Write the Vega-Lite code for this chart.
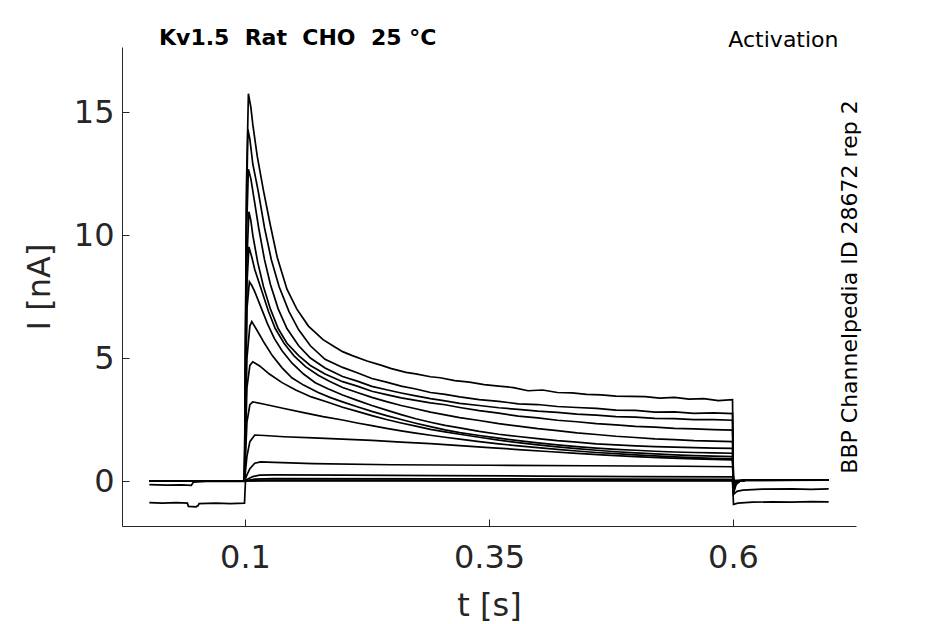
{
  "$schema": "https://vega.github.io/schema/vega-lite/v6.json",
  "width": 734,
  "height": 479,
  "autosize": {"type": "none"},
  "padding": {"left": 122, "top": 47, "right": 89, "bottom": 98},
  "background": "white",
  "config": {
    "view": {"stroke": null},
    "font": "DejaVu Sans",
    "axis": {
      "grid": false,
      "labelFont": "DejaVu Sans",
      "labelFontSize": 32,
      "labelColor": "#262626",
      "titleFont": "DejaVu Sans",
      "titleFontSize": 32,
      "titleFontWeight": "normal",
      "titleColor": "#262626",
      "domainColor": "#262626",
      "tickColor": "#262626",
      "tickSize": -7
    }
  },
  "title": {
    "text": "Kv1.5\u00a0\u00a0Rat\u00a0\u00a0CHO\u00a0\u00a025\u00a0°C",
    "anchor": "start",
    "frame": "group",
    "font": "DejaVu Sans",
    "fontSize": 22,
    "fontWeight": "bold",
    "color": "black",
    "baseline": "alphabetic",
    "dx": 37,
    "dy": 39,
    "offset": 0
  },
  "data": {
    "values": [
      {"sweep": "A", "t": 0.002, "I": 0.01}, {"sweep": "A", "t": 0.03, "I": -0.01}, {"sweep": "A", "t": 0.06, "I": 0.01}, {"sweep": "A", "t": 0.0995, "I": 0},
      {"sweep": "A", "t": 0.1015, "I": 12.0}, {"sweep": "A", "t": 0.1035, "I": 15.75}, {"sweep": "A", "t": 0.106, "I": 15.2}, {"sweep": "A", "t": 0.108, "I": 14.5},
      {"sweep": "A", "t": 0.1126, "I": 13.2}, {"sweep": "A", "t": 0.119, "I": 11.8}, {"sweep": "A", "t": 0.126, "I": 10.4}, {"sweep": "A", "t": 0.133, "I": 9.1},
      {"sweep": "A", "t": 0.143, "I": 7.8}, {"sweep": "A", "t": 0.153, "I": 7.0}, {"sweep": "A", "t": 0.165, "I": 6.3}, {"sweep": "A", "t": 0.18, "I": 5.75},
      {"sweep": "A", "t": 0.19, "I": 5.5}, {"sweep": "A", "t": 0.2, "I": 5.26}, {"sweep": "A", "t": 0.21, "I": 5.1}, {"sweep": "A", "t": 0.225, "I": 4.88},
      {"sweep": "A", "t": 0.24, "I": 4.7}, {"sweep": "A", "t": 0.25, "I": 4.57}, {"sweep": "A", "t": 0.265, "I": 4.42}, {"sweep": "A", "t": 0.275, "I": 4.36},
      {"sweep": "A", "t": 0.29, "I": 4.24}, {"sweep": "A", "t": 0.3, "I": 4.2}, {"sweep": "A", "t": 0.315, "I": 4.08}, {"sweep": "A", "t": 0.33, "I": 4.02},
      {"sweep": "A", "t": 0.345, "I": 3.92}, {"sweep": "A", "t": 0.36, "I": 3.86}, {"sweep": "A", "t": 0.375, "I": 3.8}, {"sweep": "A", "t": 0.39, "I": 3.67},
      {"sweep": "A", "t": 0.405, "I": 3.7}, {"sweep": "A", "t": 0.42, "I": 3.6}, {"sweep": "A", "t": 0.435, "I": 3.58}, {"sweep": "A", "t": 0.45, "I": 3.52},
      {"sweep": "A", "t": 0.465, "I": 3.5}, {"sweep": "A", "t": 0.48, "I": 3.45}, {"sweep": "A", "t": 0.495, "I": 3.44}, {"sweep": "A", "t": 0.51, "I": 3.43},
      {"sweep": "A", "t": 0.525, "I": 3.37}, {"sweep": "A", "t": 0.54, "I": 3.4}, {"sweep": "A", "t": 0.555, "I": 3.33}, {"sweep": "A", "t": 0.57, "I": 3.35},
      {"sweep": "A", "t": 0.585, "I": 3.27}, {"sweep": "A", "t": 0.5995, "I": 3.31}, {"sweep": "A", "t": 0.6005, "I": -0.5}, {"sweep": "A", "t": 0.603, "I": -0.15},
      {"sweep": "A", "t": 0.607, "I": 0.0}, {"sweep": "A", "t": 0.615, "I": 0.04}, {"sweep": "A", "t": 0.65, "I": 0.04}, {"sweep": "A", "t": 0.698, "I": 0.04},

      {"sweep": "B", "t": 0.002, "I": 0}, {"sweep": "B", "t": 0.0995, "I": 0}, {"sweep": "B", "t": 0.1015, "I": 11}, {"sweep": "B", "t": 0.103, "I": 14.3},
      {"sweep": "B", "t": 0.105, "I": 13.9}, {"sweep": "B", "t": 0.108, "I": 12.9}, {"sweep": "B", "t": 0.1135, "I": 11.8}, {"sweep": "B", "t": 0.12, "I": 10.3},
      {"sweep": "B", "t": 0.127, "I": 9.0}, {"sweep": "B", "t": 0.135, "I": 7.9}, {"sweep": "B", "t": 0.145, "I": 6.9}, {"sweep": "B", "t": 0.155, "I": 6.15},
      {"sweep": "B", "t": 0.167, "I": 5.5}, {"sweep": "B", "t": 0.182, "I": 4.95}, {"sweep": "B", "t": 0.2, "I": 4.62}, {"sweep": "B", "t": 0.215, "I": 4.4},
      {"sweep": "B", "t": 0.23, "I": 4.17}, {"sweep": "B", "t": 0.245, "I": 4.02}, {"sweep": "B", "t": 0.26, "I": 3.86}, {"sweep": "B", "t": 0.275, "I": 3.74},
      {"sweep": "B", "t": 0.29, "I": 3.6}, {"sweep": "B", "t": 0.305, "I": 3.52}, {"sweep": "B", "t": 0.32, "I": 3.42}, {"sweep": "B", "t": 0.34, "I": 3.31},
      {"sweep": "B", "t": 0.36, "I": 3.24}, {"sweep": "B", "t": 0.38, "I": 3.14}, {"sweep": "B", "t": 0.4, "I": 3.11}, {"sweep": "B", "t": 0.42, "I": 3.03},
      {"sweep": "B", "t": 0.44, "I": 2.99}, {"sweep": "B", "t": 0.46, "I": 2.95}, {"sweep": "B", "t": 0.48, "I": 2.88}, {"sweep": "B", "t": 0.5, "I": 2.87},
      {"sweep": "B", "t": 0.52, "I": 2.8}, {"sweep": "B", "t": 0.54, "I": 2.81}, {"sweep": "B", "t": 0.56, "I": 2.75}, {"sweep": "B", "t": 0.58, "I": 2.77},
      {"sweep": "B", "t": 0.5995, "I": 2.74}, {"sweep": "B", "t": 0.6005, "I": -0.45}, {"sweep": "B", "t": 0.603, "I": -0.13}, {"sweep": "B", "t": 0.607, "I": 0},
      {"sweep": "B", "t": 0.615, "I": 0.04}, {"sweep": "B", "t": 0.698, "I": 0.04},

      {"sweep": "C", "t": 0.002, "I": 0}, {"sweep": "C", "t": 0.0995, "I": 0}, {"sweep": "C", "t": 0.1015, "I": 10}, {"sweep": "C", "t": 0.1035, "I": 12.68},
      {"sweep": "C", "t": 0.106, "I": 12.3}, {"sweep": "C", "t": 0.108, "I": 11.8}, {"sweep": "C", "t": 0.114, "I": 10.3}, {"sweep": "C", "t": 0.12, "I": 9.0},
      {"sweep": "C", "t": 0.126, "I": 8.0}, {"sweep": "C", "t": 0.134, "I": 7.0}, {"sweep": "C", "t": 0.143, "I": 6.2}, {"sweep": "C", "t": 0.155, "I": 5.5},
      {"sweep": "C", "t": 0.167, "I": 5.0}, {"sweep": "C", "t": 0.182, "I": 4.6}, {"sweep": "C", "t": 0.2, "I": 4.25}, {"sweep": "C", "t": 0.215, "I": 4.06},
      {"sweep": "C", "t": 0.23, "I": 3.85}, {"sweep": "C", "t": 0.245, "I": 3.71}, {"sweep": "C", "t": 0.26, "I": 3.58}, {"sweep": "C", "t": 0.275, "I": 3.46},
      {"sweep": "C", "t": 0.29, "I": 3.35}, {"sweep": "C", "t": 0.305, "I": 3.26}, {"sweep": "C", "t": 0.32, "I": 3.16}, {"sweep": "C", "t": 0.34, "I": 3.07},
      {"sweep": "C", "t": 0.36, "I": 2.98}, {"sweep": "C", "t": 0.38, "I": 2.91}, {"sweep": "C", "t": 0.4, "I": 2.84}, {"sweep": "C", "t": 0.42, "I": 2.79},
      {"sweep": "C", "t": 0.44, "I": 2.72}, {"sweep": "C", "t": 0.46, "I": 2.68}, {"sweep": "C", "t": 0.48, "I": 2.62}, {"sweep": "C", "t": 0.5, "I": 2.6},
      {"sweep": "C", "t": 0.52, "I": 2.55}, {"sweep": "C", "t": 0.54, "I": 2.54}, {"sweep": "C", "t": 0.56, "I": 2.5}, {"sweep": "C", "t": 0.58, "I": 2.5},
      {"sweep": "C", "t": 0.5995, "I": 2.47}, {"sweep": "C", "t": 0.6005, "I": -0.4}, {"sweep": "C", "t": 0.603, "I": -0.12}, {"sweep": "C", "t": 0.607, "I": 0},
      {"sweep": "C", "t": 0.615, "I": 0.04}, {"sweep": "C", "t": 0.698, "I": 0.04},

      {"sweep": "D", "t": 0.002, "I": 0}, {"sweep": "D", "t": 0.0995, "I": 0}, {"sweep": "D", "t": 0.102, "I": 9}, {"sweep": "D", "t": 0.104, "I": 10.95},
      {"sweep": "D", "t": 0.106, "I": 10.6}, {"sweep": "D", "t": 0.108, "I": 10.0}, {"sweep": "D", "t": 0.113, "I": 8.9}, {"sweep": "D", "t": 0.119, "I": 7.9},
      {"sweep": "D", "t": 0.126, "I": 7.0}, {"sweep": "D", "t": 0.134, "I": 6.2}, {"sweep": "D", "t": 0.143, "I": 5.6}, {"sweep": "D", "t": 0.155, "I": 5.1},
      {"sweep": "D", "t": 0.167, "I": 4.7}, {"sweep": "D", "t": 0.182, "I": 4.35}, {"sweep": "D", "t": 0.2, "I": 4.04}, {"sweep": "D", "t": 0.215, "I": 3.86},
      {"sweep": "D", "t": 0.23, "I": 3.65}, {"sweep": "D", "t": 0.245, "I": 3.51}, {"sweep": "D", "t": 0.26, "I": 3.38}, {"sweep": "D", "t": 0.275, "I": 3.28},
      {"sweep": "D", "t": 0.29, "I": 3.18}, {"sweep": "D", "t": 0.305, "I": 3.1}, {"sweep": "D", "t": 0.32, "I": 2.99}, {"sweep": "D", "t": 0.34, "I": 2.86},
      {"sweep": "D", "t": 0.36, "I": 2.76}, {"sweep": "D", "t": 0.38, "I": 2.64}, {"sweep": "D", "t": 0.4, "I": 2.57}, {"sweep": "D", "t": 0.42, "I": 2.47},
      {"sweep": "D", "t": 0.44, "I": 2.41}, {"sweep": "D", "t": 0.46, "I": 2.33}, {"sweep": "D", "t": 0.48, "I": 2.28}, {"sweep": "D", "t": 0.5, "I": 2.22},
      {"sweep": "D", "t": 0.52, "I": 2.19}, {"sweep": "D", "t": 0.54, "I": 2.14}, {"sweep": "D", "t": 0.56, "I": 2.12}, {"sweep": "D", "t": 0.58, "I": 2.09},
      {"sweep": "D", "t": 0.5995, "I": 2.07}, {"sweep": "D", "t": 0.6005, "I": -0.35}, {"sweep": "D", "t": 0.603, "I": -0.1}, {"sweep": "D", "t": 0.607, "I": 0},
      {"sweep": "D", "t": 0.615, "I": 0.04}, {"sweep": "D", "t": 0.698, "I": 0.04},

      {"sweep": "E", "t": 0.002, "I": 0}, {"sweep": "E", "t": 0.0995, "I": 0}, {"sweep": "E", "t": 0.102, "I": 8}, {"sweep": "E", "t": 0.104, "I": 9.52},
      {"sweep": "E", "t": 0.107, "I": 9.1}, {"sweep": "E", "t": 0.11, "I": 8.6}, {"sweep": "E", "t": 0.117, "I": 7.76}, {"sweep": "E", "t": 0.124, "I": 6.9},
      {"sweep": "E", "t": 0.131, "I": 6.2}, {"sweep": "E", "t": 0.14, "I": 5.6}, {"sweep": "E", "t": 0.15, "I": 5.1}, {"sweep": "E", "t": 0.162, "I": 4.65},
      {"sweep": "E", "t": 0.175, "I": 4.3}, {"sweep": "E", "t": 0.187, "I": 4.05}, {"sweep": "E", "t": 0.2, "I": 3.8}, {"sweep": "E", "t": 0.215, "I": 3.6},
      {"sweep": "E", "t": 0.23, "I": 3.4}, {"sweep": "E", "t": 0.245, "I": 3.23}, {"sweep": "E", "t": 0.26, "I": 3.07}, {"sweep": "E", "t": 0.275, "I": 2.94},
      {"sweep": "E", "t": 0.29, "I": 2.8}, {"sweep": "E", "t": 0.305, "I": 2.69}, {"sweep": "E", "t": 0.32, "I": 2.58}, {"sweep": "E", "t": 0.34, "I": 2.46},
      {"sweep": "E", "t": 0.36, "I": 2.33}, {"sweep": "E", "t": 0.38, "I": 2.23}, {"sweep": "E", "t": 0.4, "I": 2.13}, {"sweep": "E", "t": 0.42, "I": 2.05},
      {"sweep": "E", "t": 0.44, "I": 1.96}, {"sweep": "E", "t": 0.46, "I": 1.89}, {"sweep": "E", "t": 0.48, "I": 1.82}, {"sweep": "E", "t": 0.5, "I": 1.77},
      {"sweep": "E", "t": 0.52, "I": 1.71}, {"sweep": "E", "t": 0.54, "I": 1.68}, {"sweep": "E", "t": 0.56, "I": 1.64}, {"sweep": "E", "t": 0.58, "I": 1.62},
      {"sweep": "E", "t": 0.5995, "I": 1.6}, {"sweep": "E", "t": 0.6005, "I": -0.3}, {"sweep": "E", "t": 0.603, "I": -0.09}, {"sweep": "E", "t": 0.607, "I": 0},
      {"sweep": "E", "t": 0.615, "I": 0.04}, {"sweep": "E", "t": 0.698, "I": 0.04},

      {"sweep": "F", "t": 0.002, "I": 0}, {"sweep": "F", "t": 0.0995, "I": 0}, {"sweep": "F", "t": 0.102, "I": 7}, {"sweep": "F", "t": 0.1045, "I": 8.1},
      {"sweep": "F", "t": 0.107, "I": 7.95}, {"sweep": "F", "t": 0.11, "I": 7.7}, {"sweep": "F", "t": 0.116, "I": 7.1}, {"sweep": "F", "t": 0.123, "I": 6.4},
      {"sweep": "F", "t": 0.13, "I": 5.8}, {"sweep": "F", "t": 0.138, "I": 5.3}, {"sweep": "F", "t": 0.148, "I": 4.8}, {"sweep": "F", "t": 0.16, "I": 4.35},
      {"sweep": "F", "t": 0.172, "I": 4.0}, {"sweep": "F", "t": 0.185, "I": 3.75}, {"sweep": "F", "t": 0.2, "I": 3.5}, {"sweep": "F", "t": 0.215, "I": 3.28},
      {"sweep": "F", "t": 0.23, "I": 3.07}, {"sweep": "F", "t": 0.245, "I": 2.88}, {"sweep": "F", "t": 0.26, "I": 2.7}, {"sweep": "F", "t": 0.275, "I": 2.53},
      {"sweep": "F", "t": 0.29, "I": 2.39}, {"sweep": "F", "t": 0.305, "I": 2.26}, {"sweep": "F", "t": 0.32, "I": 2.16}, {"sweep": "F", "t": 0.34, "I": 2.02},
      {"sweep": "F", "t": 0.36, "I": 1.9}, {"sweep": "F", "t": 0.38, "I": 1.81}, {"sweep": "F", "t": 0.4, "I": 1.72}, {"sweep": "F", "t": 0.42, "I": 1.64},
      {"sweep": "F", "t": 0.44, "I": 1.58}, {"sweep": "F", "t": 0.46, "I": 1.51}, {"sweep": "F", "t": 0.48, "I": 1.47}, {"sweep": "F", "t": 0.5, "I": 1.43},
      {"sweep": "F", "t": 0.52, "I": 1.4}, {"sweep": "F", "t": 0.54, "I": 1.38}, {"sweep": "F", "t": 0.56, "I": 1.36}, {"sweep": "F", "t": 0.58, "I": 1.34},
      {"sweep": "F", "t": 0.5995, "I": 1.33}, {"sweep": "F", "t": 0.6005, "I": -0.25}, {"sweep": "F", "t": 0.603, "I": -0.07}, {"sweep": "F", "t": 0.607, "I": 0},
      {"sweep": "F", "t": 0.615, "I": 0.04}, {"sweep": "F", "t": 0.698, "I": 0.04},

      {"sweep": "G", "t": 0.002, "I": 0}, {"sweep": "G", "t": 0.0995, "I": 0}, {"sweep": "G", "t": 0.102, "I": 5}, {"sweep": "G", "t": 0.105, "I": 6.3},
      {"sweep": "G", "t": 0.107, "I": 6.48}, {"sweep": "G", "t": 0.112, "I": 6.15}, {"sweep": "G", "t": 0.12, "I": 5.6}, {"sweep": "G", "t": 0.128, "I": 5.1},
      {"sweep": "G", "t": 0.138, "I": 4.6}, {"sweep": "G", "t": 0.148, "I": 4.2}, {"sweep": "G", "t": 0.16, "I": 3.9}, {"sweep": "G", "t": 0.175, "I": 3.6},
      {"sweep": "G", "t": 0.187, "I": 3.4}, {"sweep": "G", "t": 0.2, "I": 3.22}, {"sweep": "G", "t": 0.215, "I": 3.02}, {"sweep": "G", "t": 0.23, "I": 2.83},
      {"sweep": "G", "t": 0.245, "I": 2.66}, {"sweep": "G", "t": 0.26, "I": 2.5}, {"sweep": "G", "t": 0.275, "I": 2.35}, {"sweep": "G", "t": 0.29, "I": 2.21},
      {"sweep": "G", "t": 0.305, "I": 2.08}, {"sweep": "G", "t": 0.32, "I": 1.97}, {"sweep": "G", "t": 0.34, "I": 1.85}, {"sweep": "G", "t": 0.36, "I": 1.74},
      {"sweep": "G", "t": 0.38, "I": 1.64}, {"sweep": "G", "t": 0.4, "I": 1.55}, {"sweep": "G", "t": 0.42, "I": 1.47}, {"sweep": "G", "t": 0.44, "I": 1.4},
      {"sweep": "G", "t": 0.46, "I": 1.34}, {"sweep": "G", "t": 0.48, "I": 1.29}, {"sweep": "G", "t": 0.5, "I": 1.25}, {"sweep": "G", "t": 0.52, "I": 1.21},
      {"sweep": "G", "t": 0.54, "I": 1.18}, {"sweep": "G", "t": 0.56, "I": 1.16}, {"sweep": "G", "t": 0.58, "I": 1.14}, {"sweep": "G", "t": 0.5995, "I": 1.13},
      {"sweep": "G", "t": 0.6005, "I": -0.2}, {"sweep": "G", "t": 0.603, "I": -0.06}, {"sweep": "G", "t": 0.607, "I": 0}, {"sweep": "G", "t": 0.615, "I": 0.04},
      {"sweep": "G", "t": 0.698, "I": 0.04},

      {"sweep": "H", "t": 0.002, "I": 0}, {"sweep": "H", "t": 0.0995, "I": 0}, {"sweep": "H", "t": 0.102, "I": 3.8}, {"sweep": "H", "t": 0.105, "I": 4.7},
      {"sweep": "H", "t": 0.108, "I": 4.85}, {"sweep": "H", "t": 0.115, "I": 4.68}, {"sweep": "H", "t": 0.125, "I": 4.35}, {"sweep": "H", "t": 0.138, "I": 4.0},
      {"sweep": "H", "t": 0.152, "I": 3.7}, {"sweep": "H", "t": 0.168, "I": 3.42}, {"sweep": "H", "t": 0.185, "I": 3.2}, {"sweep": "H", "t": 0.2, "I": 3.0},
      {"sweep": "H", "t": 0.215, "I": 2.83}, {"sweep": "H", "t": 0.23, "I": 2.66}, {"sweep": "H", "t": 0.245, "I": 2.5}, {"sweep": "H", "t": 0.26, "I": 2.36},
      {"sweep": "H", "t": 0.275, "I": 2.23}, {"sweep": "H", "t": 0.29, "I": 2.1}, {"sweep": "H", "t": 0.305, "I": 2.0}, {"sweep": "H", "t": 0.32, "I": 1.9},
      {"sweep": "H", "t": 0.34, "I": 1.78}, {"sweep": "H", "t": 0.36, "I": 1.66}, {"sweep": "H", "t": 0.38, "I": 1.56}, {"sweep": "H", "t": 0.4, "I": 1.47},
      {"sweep": "H", "t": 0.42, "I": 1.39}, {"sweep": "H", "t": 0.44, "I": 1.32}, {"sweep": "H", "t": 0.46, "I": 1.25}, {"sweep": "H", "t": 0.48, "I": 1.19},
      {"sweep": "H", "t": 0.5, "I": 1.14}, {"sweep": "H", "t": 0.52, "I": 1.1}, {"sweep": "H", "t": 0.54, "I": 1.06}, {"sweep": "H", "t": 0.56, "I": 1.03},
      {"sweep": "H", "t": 0.58, "I": 1.01}, {"sweep": "H", "t": 0.5995, "I": 0.99}, {"sweep": "H", "t": 0.6005, "I": -0.18}, {"sweep": "H", "t": 0.603, "I": -0.05},
      {"sweep": "H", "t": 0.607, "I": 0}, {"sweep": "H", "t": 0.615, "I": 0.04}, {"sweep": "H", "t": 0.698, "I": 0.04},

      {"sweep": "I", "t": 0.002, "I": 0}, {"sweep": "I", "t": 0.0995, "I": 0}, {"sweep": "I", "t": 0.102, "I": 2.4}, {"sweep": "I", "t": 0.105, "I": 3.1},
      {"sweep": "I", "t": 0.108, "I": 3.22}, {"sweep": "I", "t": 0.12, "I": 3.12}, {"sweep": "I", "t": 0.14, "I": 2.95}, {"sweep": "I", "t": 0.16, "I": 2.78},
      {"sweep": "I", "t": 0.18, "I": 2.62}, {"sweep": "I", "t": 0.2, "I": 2.48}, {"sweep": "I", "t": 0.215, "I": 2.36}, {"sweep": "I", "t": 0.23, "I": 2.25},
      {"sweep": "I", "t": 0.245, "I": 2.14}, {"sweep": "I", "t": 0.26, "I": 2.04}, {"sweep": "I", "t": 0.275, "I": 1.95}, {"sweep": "I", "t": 0.29, "I": 1.86},
      {"sweep": "I", "t": 0.305, "I": 1.78}, {"sweep": "I", "t": 0.32, "I": 1.7}, {"sweep": "I", "t": 0.34, "I": 1.6}, {"sweep": "I", "t": 0.36, "I": 1.51},
      {"sweep": "I", "t": 0.38, "I": 1.43}, {"sweep": "I", "t": 0.4, "I": 1.36}, {"sweep": "I", "t": 0.42, "I": 1.29}, {"sweep": "I", "t": 0.44, "I": 1.22},
      {"sweep": "I", "t": 0.46, "I": 1.16}, {"sweep": "I", "t": 0.48, "I": 1.11}, {"sweep": "I", "t": 0.5, "I": 1.06}, {"sweep": "I", "t": 0.52, "I": 1.02},
      {"sweep": "I", "t": 0.54, "I": 0.98}, {"sweep": "I", "t": 0.56, "I": 0.95}, {"sweep": "I", "t": 0.58, "I": 0.92}, {"sweep": "I", "t": 0.5995, "I": 0.9},
      {"sweep": "I", "t": 0.6005, "I": -0.15}, {"sweep": "I", "t": 0.603, "I": -0.04}, {"sweep": "I", "t": 0.607, "I": 0}, {"sweep": "I", "t": 0.615, "I": 0.04},
      {"sweep": "I", "t": 0.698, "I": 0.04},

      {"sweep": "J", "t": 0.002, "I": 0}, {"sweep": "J", "t": 0.0995, "I": 0}, {"sweep": "J", "t": 0.102, "I": 1.0}, {"sweep": "J", "t": 0.105, "I": 1.6},
      {"sweep": "J", "t": 0.11, "I": 1.87}, {"sweep": "J", "t": 0.12, "I": 1.85}, {"sweep": "J", "t": 0.14, "I": 1.8}, {"sweep": "J", "t": 0.17, "I": 1.75},
      {"sweep": "J", "t": 0.2, "I": 1.7}, {"sweep": "J", "t": 0.23, "I": 1.65}, {"sweep": "J", "t": 0.26, "I": 1.58}, {"sweep": "J", "t": 0.29, "I": 1.52},
      {"sweep": "J", "t": 0.32, "I": 1.44}, {"sweep": "J", "t": 0.35, "I": 1.36}, {"sweep": "J", "t": 0.38, "I": 1.28}, {"sweep": "J", "t": 0.41, "I": 1.2},
      {"sweep": "J", "t": 0.44, "I": 1.12}, {"sweep": "J", "t": 0.47, "I": 1.05}, {"sweep": "J", "t": 0.5, "I": 0.99}, {"sweep": "J", "t": 0.53, "I": 0.94},
      {"sweep": "J", "t": 0.56, "I": 0.9}, {"sweep": "J", "t": 0.5995, "I": 0.86}, {"sweep": "J", "t": 0.6005, "I": -0.1}, {"sweep": "J", "t": 0.604, "I": 0},
      {"sweep": "J", "t": 0.612, "I": 0.04}, {"sweep": "J", "t": 0.698, "I": 0.04},

      {"sweep": "K", "t": 0.002, "I": 0}, {"sweep": "K", "t": 0.0995, "I": 0}, {"sweep": "K", "t": 0.102, "I": 0.25}, {"sweep": "K", "t": 0.105, "I": 0.5},
      {"sweep": "K", "t": 0.11, "I": 0.72}, {"sweep": "K", "t": 0.116, "I": 0.78}, {"sweep": "K", "t": 0.13, "I": 0.76}, {"sweep": "K", "t": 0.17, "I": 0.71},
      {"sweep": "K", "t": 0.25, "I": 0.66}, {"sweep": "K", "t": 0.35, "I": 0.64}, {"sweep": "K", "t": 0.45, "I": 0.62}, {"sweep": "K", "t": 0.55, "I": 0.6},
      {"sweep": "K", "t": 0.5995, "I": 0.58}, {"sweep": "K", "t": 0.6005, "I": -0.08}, {"sweep": "K", "t": 0.604, "I": 0}, {"sweep": "K", "t": 0.61, "I": 0.03},
      {"sweep": "K", "t": 0.698, "I": 0.04},

      {"sweep": "L", "t": 0.002, "I": 0}, {"sweep": "L", "t": 0.0995, "I": 0}, {"sweep": "L", "t": 0.103, "I": 0.08}, {"sweep": "L", "t": 0.108, "I": 0.18},
      {"sweep": "L", "t": 0.115, "I": 0.24}, {"sweep": "L", "t": 0.13, "I": 0.25}, {"sweep": "L", "t": 0.2, "I": 0.24}, {"sweep": "L", "t": 0.3, "I": 0.22},
      {"sweep": "L", "t": 0.4, "I": 0.2}, {"sweep": "L", "t": 0.5, "I": 0.18}, {"sweep": "L", "t": 0.5995, "I": 0.17}, {"sweep": "L", "t": 0.6005, "I": 0.0},
      {"sweep": "L", "t": 0.61, "I": 0.03}, {"sweep": "L", "t": 0.698, "I": 0.04},

      {"sweep": "M", "t": 0.002, "I": 0}, {"sweep": "M", "t": 0.0995, "I": 0}, {"sweep": "M", "t": 0.11, "I": 0.08}, {"sweep": "M", "t": 0.13, "I": 0.1},
      {"sweep": "M", "t": 0.3, "I": 0.09}, {"sweep": "M", "t": 0.5995, "I": 0.07}, {"sweep": "M", "t": 0.6005, "I": 0.02}, {"sweep": "M", "t": 0.698, "I": 0.04},

      {"sweep": "N", "t": 0.002, "I": 0}, {"sweep": "N", "t": 0.0995, "I": 0}, {"sweep": "N", "t": 0.12, "I": 0.03}, {"sweep": "N", "t": 0.5995, "I": 0.03},
      {"sweep": "N", "t": 0.6005, "I": 0.02}, {"sweep": "N", "t": 0.698, "I": 0.03},

      {"sweep": "O", "t": 0.002, "I": -0.15}, {"sweep": "O", "t": 0.02, "I": -0.17}, {"sweep": "O", "t": 0.035, "I": -0.16}, {"sweep": "O", "t": 0.045, "I": -0.18},
      {"sweep": "O", "t": 0.047, "I": -0.05}, {"sweep": "O", "t": 0.06, "I": -0.02}, {"sweep": "O", "t": 0.0995, "I": -0.02}, {"sweep": "O", "t": 0.1005, "I": 0.02},
      {"sweep": "O", "t": 0.5995, "I": 0.02}, {"sweep": "O", "t": 0.6005, "I": -0.55}, {"sweep": "O", "t": 0.604, "I": -0.42}, {"sweep": "O", "t": 0.61, "I": -0.37},
      {"sweep": "O", "t": 0.63, "I": -0.33}, {"sweep": "O", "t": 0.66, "I": -0.32}, {"sweep": "O", "t": 0.68, "I": -0.34}, {"sweep": "O", "t": 0.698, "I": -0.32},

      {"sweep": "P", "t": 0.002, "I": -0.88}, {"sweep": "P", "t": 0.015, "I": -0.9}, {"sweep": "P", "t": 0.03, "I": -0.88}, {"sweep": "P", "t": 0.041, "I": -0.9},
      {"sweep": "P", "t": 0.042, "I": -1.03}, {"sweep": "P", "t": 0.05, "I": -1.05}, {"sweep": "P", "t": 0.052, "I": -1.0}, {"sweep": "P", "t": 0.053, "I": -0.92},
      {"sweep": "P", "t": 0.07, "I": -0.9}, {"sweep": "P", "t": 0.085, "I": -0.92}, {"sweep": "P", "t": 0.0995, "I": -0.9}, {"sweep": "P", "t": 0.1005, "I": 0.0},
      {"sweep": "P", "t": 0.5995, "I": 0.0}, {"sweep": "P", "t": 0.6005, "I": -0.95}, {"sweep": "P", "t": 0.605, "I": -0.9}, {"sweep": "P", "t": 0.62, "I": -0.86},
      {"sweep": "P", "t": 0.64, "I": -0.85}, {"sweep": "P", "t": 0.66, "I": -0.86}, {"sweep": "P", "t": 0.68, "I": -0.84}, {"sweep": "P", "t": 0.698, "I": -0.85}
    ]
  },
  "layer": [
    {
      "mark": {"type": "line", "color": "black", "strokeWidth": 1.7, "clip": true},
      "encoding": {
        "x": {
          "field": "t", "type": "quantitative",
          "scale": {"domain": [-0.026, 0.726], "nice": false, "zero": false},
          "axis": {"orient": "bottom", "values": [0.1, 0.35, 0.6], "format": ".2~f", "labelPadding": 23,
                   "title": "t [s]", "titleBaseline": "alphabetic", "titleY": 89}
        },
        "y": {
          "field": "I", "type": "quantitative",
          "scale": {"domain": [-1.83, 17.65], "nice": false, "zero": false},
          "axis": {"orient": "left", "values": [0, 5, 10, 15], "labelPadding": 15,
                   "title": "I [nA]", "titleAngle": 270, "titleBaseline": "alphabetic", "titleAlign": "center", "titleX": -73, "titleY": 239.5}
        },
        "detail": {"field": "sweep"},
        "order": {"field": "t", "type": "quantitative"}
      }
    },
    {
      "mark": {"type": "line", "opacity": 0},
      "encoding": {
        "x": {
          "field": "t", "type": "quantitative",
          "axis": {"orient": "top", "domain": false, "ticks": false, "labels": false,
                   "title": "Activation", "titleFontSize": 22, "titleColor": "black", "titleAlign": "right",
                   "titleBaseline": "alphabetic", "titleX": 716, "titleY": -1}
        },
        "y": {
          "field": "I", "type": "quantitative",
          "axis": {"orient": "right", "domain": false, "ticks": false, "labels": false,
                   "title": "BBP Channelpedia ID 28672 rep 2", "titleFontSize": 22, "titleColor": "black",
                   "titleAngle": 270, "titleAlign": "center", "titleBaseline": "alphabetic", "titleX": 0, "titleY": 239.5}
        },
        "detail": {"field": "sweep"},
        "order": {"field": "t", "type": "quantitative"}
      }
    }
  ],
  "resolve": {"axis": {"x": "independent", "y": "independent"}}
}
